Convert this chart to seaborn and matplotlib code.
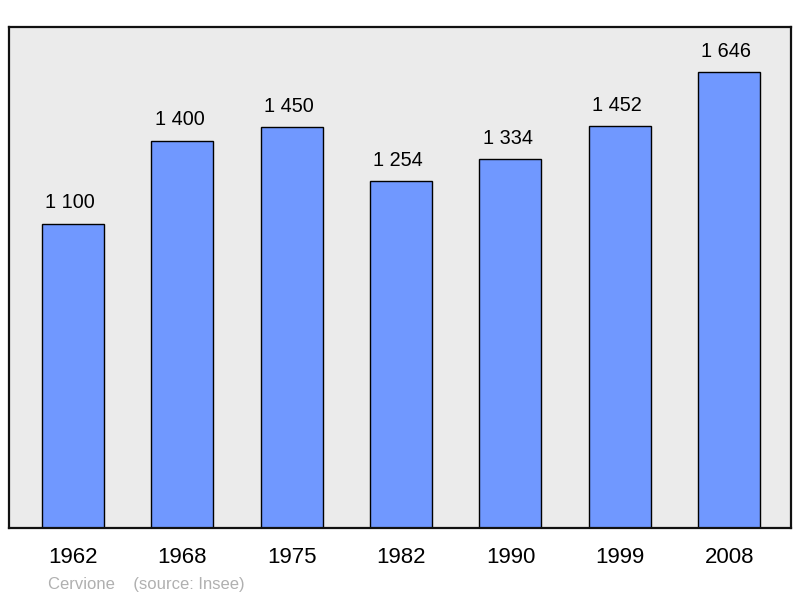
import matplotlib
matplotlib.use("Agg")
import matplotlib.pyplot as plt
import pandas as pd
import seaborn as sns

years = ["1962", "1968", "1975", "1982", "1990", "1999", "2008"]
population = [1100, 1400, 1450, 1254, 1334, 1452, 1646]
commune = "Cervione"
source = "(source: Insee)"

sns.set_style("white")
plt.rcParams["font.family"] = ["Liberation Sans", "DejaVu Sans"]

df = pd.DataFrame({"year": years, "pop": population})

fig = plt.figure(figsize=(8, 5.98), dpi=100)
ax = fig.add_axes([0.01125, 0.117, 0.9775, 0.838])
ax.set_facecolor("#ebebeb")

sns.barplot(data=df, x="year", y="pop", order=years, color="#7098ff",
            width=0.567, edgecolor="black", linewidth=1.0, saturation=1, ax=ax)

for i, v in enumerate(population):
    label = f"{v:,}".replace(",", " ")
    ax.annotate(label, (i, v), xytext=(-2, 8), textcoords="offset points",
                ha="center", va="bottom", fontsize=14.3, color="black")

ax.set_xlim(-0.585, 6.565)
ax.set_ylim(0, max(population) * 1.1)
ax.set_yticks([])
ax.set_xlabel("")
ax.set_ylabel("")
ax.tick_params(axis="x", length=0, pad=14, labelsize=16, labelcolor="black")
for s in ax.spines.values():
    s.set_linewidth(1.6)
    s.set_color("#111111")

fig.text(48 / 800, 1 - 585 / 598, commune + "    " + source, fontsize=12,
         color="#b0b0b0", ha="left", va="center")

fig.savefig("out.png", dpi=100)
